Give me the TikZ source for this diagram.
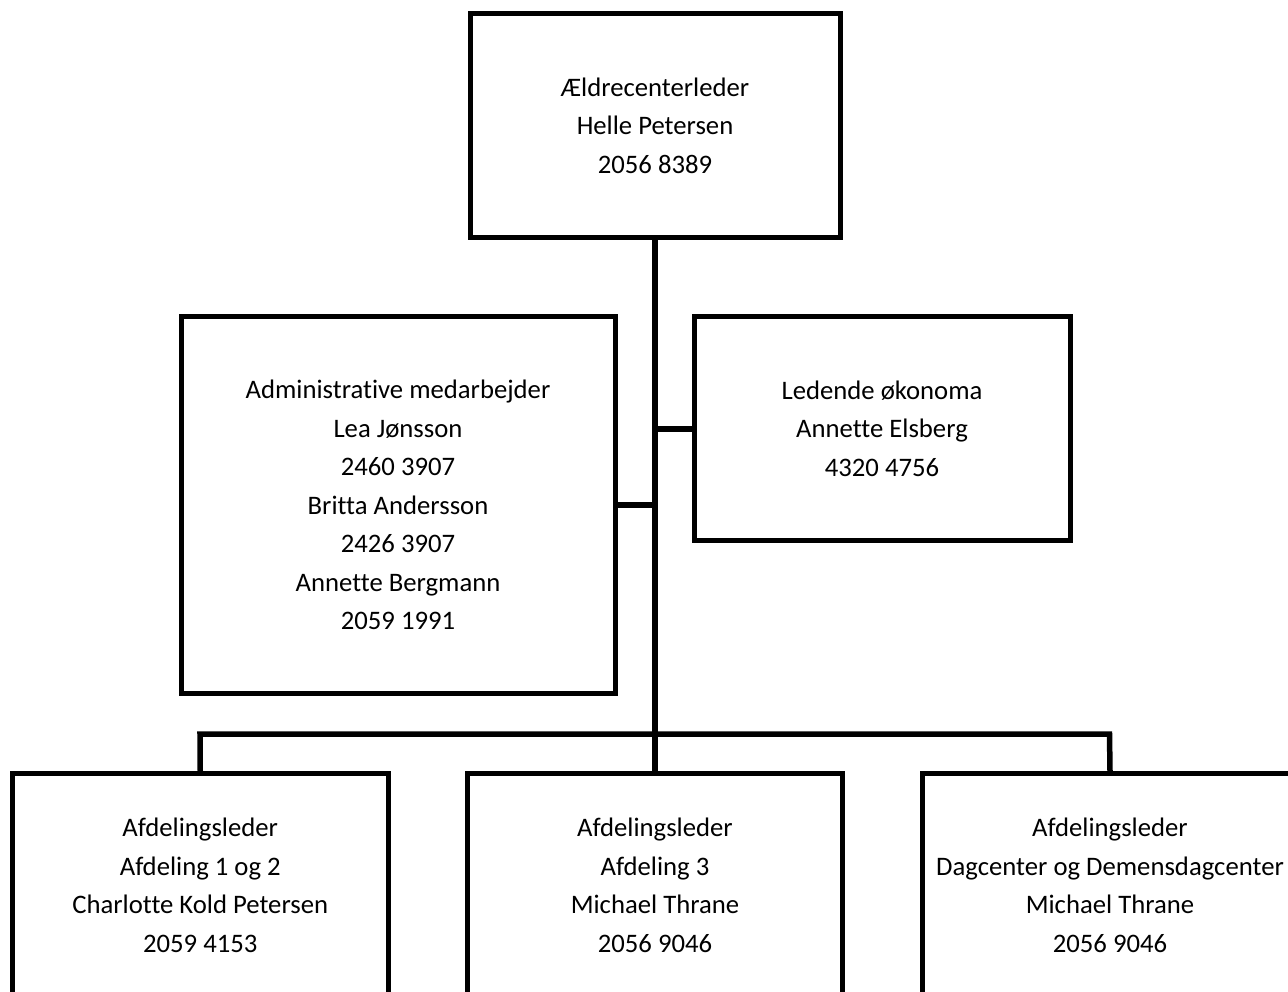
\documentclass[tikz,border=0pt]{standalone}
\usepackage{fontspec}
\setmainfont[Ligatures=NoCommon]{Carlito}
\begin{document}
\begin{tikzpicture}[x=1pt,y=-1pt,
  box/.style={draw=black,line width=5pt,fill=white,align=center,inner sep=0pt,
    font=\fontsize{26.7}{38.5}\selectfont},
  conn/.style={draw=black,line width=5.5pt}]
\useasboundingbox (0,0) rectangle (1288,992);
\clip (0,0) rectangle (1288,992);
\fill[white] (0,0) rectangle (1288,992);
\node[box,minimum width=370pt,minimum height=223.5pt] (top) at (655,125.75)
  {Ældrecenterleder\\Helle Petersen\\2056 8389};
\node[box,minimum width=434pt,minimum height=376pt] (adm) at (398,505)
  {Administrative medarbejder\\Lea Jønsson\\2460 3907\\Britta Andersson\\2426 3907\\Annette Bergmann\\2059 1991};
\node[box,minimum width=376pt,minimum height=223.5pt] (led) at (882,428.75)
  {Ledende økonoma\\Annette Elsberg\\4320 4756};
\node[box,minimum width=375.5pt,minimum height=224pt] (b1) at (200.25,885.5)
  {Afdelingsleder\\Afdeling 1 og 2\\Charlotte Kold Petersen\\2059 4153};
\node[box,minimum width=375.5pt,minimum height=224pt] (b2) at (655,885.5)
  {Afdelingsleder\\Afdeling 3\\Michael Thrane\\2056 9046};
\node[box,minimum width=376pt,minimum height=224pt] (b3) at (1110,885.5)
  {Afdelingsleder\\Dagcenter og Demensdagcenter\\Michael Thrane\\2056 9046};
\coordinate (bl) at (200,734);
\coordinate (br) at (1109.5,734);
\draw[conn] (top.south) -- (b2.north);
\draw[conn] (b1.north) -- (bl) -- (br) -- (b3.north);
\draw[conn] (adm.east) -- (adm.east -| top.south);
\draw[conn] (led.west -| top.south) -- (led.west);
\end{tikzpicture}
\end{document}
